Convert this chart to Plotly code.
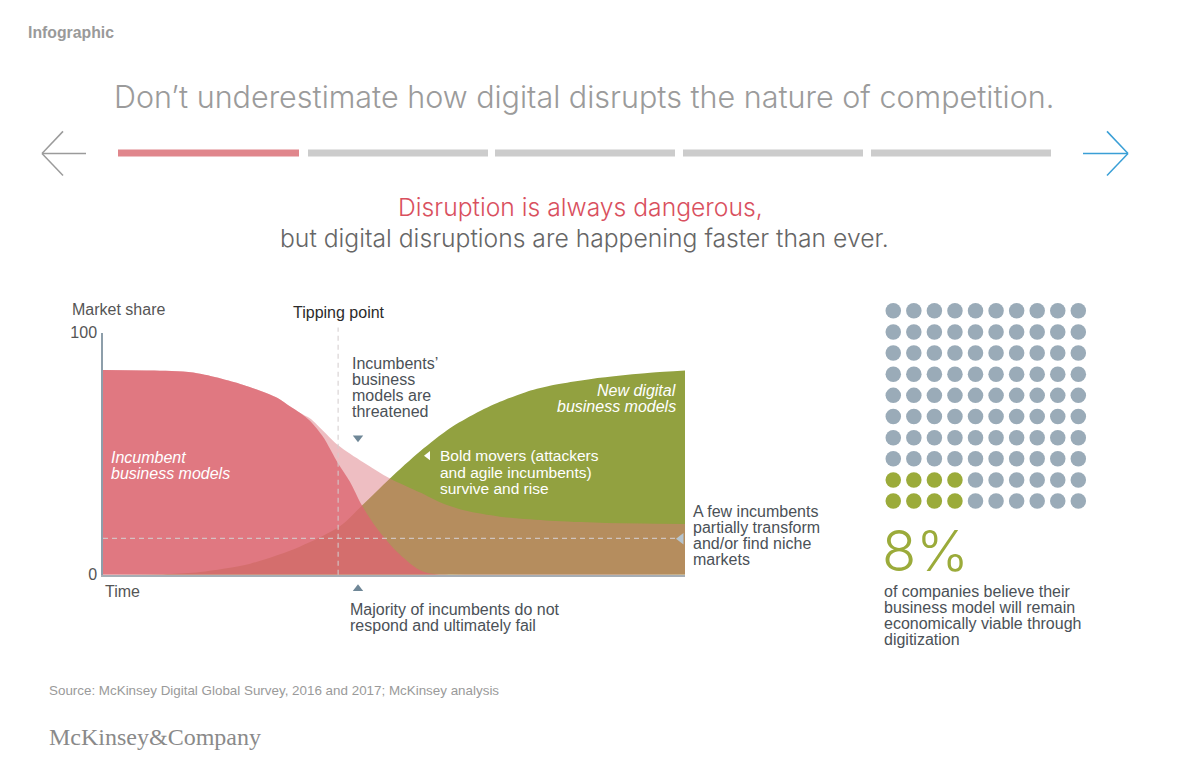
import plotly.graph_objects as go

W, H = 1200, 782


def X(px):
    return px / W


def Y(py):
    # vertical calibration of the rendered page
    return 1 - ((py - 9.75) / 0.9773) / H


# ---------------- data ----------------
# Incumbent business models (fast decline – "majority do not respond")
incumbent_x = [0, 8, 15.5, 24, 30, 32.1, 33.9, 35.6, 37.8, 40.4, 42.4, 44.5, 47.1, 50.5, 54, 56.2, 60, 100]
incumbent_y = [84.5, 84.3, 83.5, 78.5, 73, 69.6, 66.8, 63.5, 57, 46, 38.5, 28.6, 19, 9.5, 2.5, 0.5, 0, 0]

# Incumbents threatened (slow decline – "a few partially transform")
threatened_x = [0, 8, 15.5, 24, 30, 32.1, 33.9, 35.6, 37.8, 40.4, 44.7, 49.3, 54.5, 57.9, 62.2, 68.2, 76.8, 85.4, 100]
threatened_y = [84.5, 84.3, 83.5, 78.5, 73, 69.6, 66.8, 64.5, 59.5, 53.5, 46.5, 39.8, 34, 30, 26.5, 24, 22.3, 21.5, 21]

# New digital business models (rise)
digital_x = [0, 11, 16.7, 25.3, 33.8, 40.7, 44.5, 49.3, 54.5, 59.6, 63.9, 68.2, 72.5, 76.8, 85.4, 94.0, 100]
digital_y = [0, 0.3, 1.2, 4.6, 11.6, 20, 28.6, 39.8, 51, 60.5, 66.5, 71.4, 75.3, 78, 81.3, 83.4, 84.3]

tipping_point_x = 40.4
niche_level = 15
y_ticks = [0, 100]
y_tick_labels = ["0", "100"]

# Dot panel
total_companies = 100
viable_pct = 8
grid_cols = 10
block_rows = 2

# ---------------- colours / fonts ----------------
GREEN = "rgb(146,161,64)"
PINK = "rgba(220,120,128,0.48)"
RED = "rgba(220,102,112,0.80)"
TEXT = "#4b5157"
SANS = "Liberation Sans, Arial, sans-serif"
LIGHT = "Inter, Lato, Liberation Sans, sans-serif"
POINTER = "#6f8797"

fig = go.Figure()

fig.add_trace(go.Scatter(x=digital_x, y=digital_y, mode="lines",
                         line=dict(width=0, shape="spline", smoothing=0.8),
                         fill="tozeroy", fillcolor=GREEN, hoverinfo="skip"))
fig.add_trace(go.Scatter(x=threatened_x, y=threatened_y, mode="lines",
                         line=dict(width=0, shape="spline", smoothing=0.8),
                         fill="tozeroy", fillcolor=PINK, hoverinfo="skip"))
fig.add_trace(go.Scatter(x=incumbent_x, y=incumbent_y, mode="lines",
                         line=dict(width=0, shape="spline", smoothing=0.8),
                         fill="tozeroy", fillcolor=RED, hoverinfo="skip"))

# dot grid
dx, dy, dc = [], [], []
green_cells = set()
for k in range(viable_pct):
    green_cells.add((k // block_rows, k % block_rows))
for i in range(total_companies):
    col = i % grid_cols
    row = i // grid_cols
    dx.append(col)
    dy.append(row)
    dc.append("rgb(155,171,58)" if (col, row) in green_cells else "rgb(154,171,184)")
fig.add_trace(go.Scatter(x=dx, y=dy, xaxis="x2", yaxis="y2", mode="markers",
                         marker=dict(size=15.5, color=dc, line=dict(width=0)), hoverinfo="skip"))

# pointer triangles on a full-page axis pair
ptr = [(358, 439, "triangle-down", 9, POINTER),
       (358, 590, "triangle-up", 9, POINTER),
       (428, 457, "triangle-left", 8, "white"),
       (681, 540, "triangle-left", 10, "#b6c4ce")]
for px, py, sym, sz, col in ptr:
    fig.add_trace(go.Scatter(x=[X(px)], y=[Y(py)], xaxis="x3", yaxis="y3", mode="markers",
                             cliponaxis=False, marker=dict(symbol=sym, size=sz, color=col),
                             hoverinfo="skip"))

shapes = []
# tipping point vertical dashed line
shapes.append(dict(type="line", xref="x", yref="paper", x0=tipping_point_x, x1=tipping_point_x,
                   y0=Y(576), y1=Y(329), line=dict(color="rgba(212,204,206,0.85)", width=1.2, dash="5px,4px"),
                   layer="above"))
# niche dashed horizontal line
shapes.append(dict(type="line", xref="x", yref="y", x0=0, x1=98.5, y0=niche_level, y1=niche_level,
                   line=dict(color="rgba(212,204,206,0.85)", width=1.2, dash="5px,4px"), layer="above"))

# progress bars
bars = [(118, 299, "#e0868c"), (308, 488, "#cccccc"), (495, 675, "#cccccc"),
        (683, 863, "#cccccc"), (871, 1051, "#cccccc")]
for x0, x1, c in bars:
    shapes.append(dict(type="rect", xref="paper", yref="paper", x0=X(x0), x1=X(x1), y0=Y(158), y1=Y(151),
                       line=dict(width=0), fillcolor=c))


def seg(x0, y0, x1, y1, c, w=1.5):
    shapes.append(dict(type="line", xref="paper", yref="paper", x0=X(x0), y0=Y(y0), x1=X(x1), y1=Y(y1),
                       line=dict(color=c, width=w)))


seg(42, 155, 86, 155, "#9b9b9b")
seg(42, 155, 63, 133, "#9b9b9b")
seg(42, 155, 63, 177, "#9b9b9b")
seg(1083, 155, 1128, 155, "#3a9fd6")
seg(1128, 155, 1107, 133, "#3a9fd6")
seg(1128, 155, 1107, 177, "#3a9fd6")

ann = []


def txt(s, x, y, size=16, color=TEXT, anchor="left", family=SANS, italic=False, weight=None):
    f = dict(size=size, color=color, family=family)
    if italic:
        f["style"] = "italic"
    if weight:
        f["weight"] = weight
    ann.append(dict(text=s, x=X(x), y=Y(y), xref="paper", yref="paper", xanchor=anchor,
                    yanchor="middle", showarrow=False, font=f))


txt("Infographic", 26, 34, 15.8, "#9a9a9a", weight="bold")
txt("Don\u2019t underestimate how digital disrupts the nature of competition.", 583.5, 98.5, 30.5, "#9b9b9b",
    anchor="center", family=LIGHT, weight=300)
txt("Disruption is always dangerous,", 580.5, 208.5, 24.7, "#d9505e", anchor="center", family=LIGHT, weight=300)
txt("but digital disruptions are happening faster than ever.", 584.5, 239.5, 24.7, "#666666", anchor="center",
    family=LIGHT, weight=300)

txt("Market share", 70, 311, 16, "#555555")
txt("Tipping point", 291, 314, 16, "#2b2b2b")
txt("Time", 103, 593, 16, "#555555")

for i, s in enumerate(["Incumbents\u2019", "business", "models are", "threatened"]):
    txt(s, 350, 365 + 16 * i)
for i, s in enumerate(["Incumbent", "business models"]):
    txt(s, 109, 459 + 16 * i, color="white", italic=True)
for i, s in enumerate(["New digital", "business models"]):
    txt(s, 678, 392 + 16 * i, color="white", italic=True, anchor="right")
for i, s in enumerate(["Bold movers (attackers", "and agile incumbents)", "survive and rise"]):
    txt(s, 438, 457 + 16.5 * i, 15.5, color="white")
for i, s in enumerate(["A few incumbents", "partially transform", "and/or find niche", "markets"]):
    txt(s, 691, 513 + 16 * i)
for i, s in enumerate(["Majority of incumbents do not", "respond and ultimately fail"]):
    txt(s, 348, 611 + 16 * i)

txt(f"{viable_pct}%", 880, 552, 56, "rgb(155,171,58)", family=LIGHT, weight=300)
for i, s in enumerate(["of companies believe their", "business model will remain",
                       "economically viable through", "digitization"]):
    txt(s, 882, 593 + 16 * i, 16)

txt("Source: McKinsey Digital Global Survey, 2016 and 2017; McKinsey analysis", 47, 692, 13.4, "#9a9a9a")
txt("McKinsey&amp;Company", 47, 738, 24, "#8a8a8a", family="Liberation Serif, Times New Roman, serif")

fig.update_layout(
    width=W, height=H, margin=dict(l=0, r=0, t=0, b=0),
    paper_bgcolor="white", plot_bgcolor="rgba(0,0,0,0)", showlegend=False,
    xaxis=dict(domain=[X(103), X(685)], range=[0, 100], showgrid=False, zeroline=False,
               showticklabels=False, ticks="", showline=True, linecolor="#a7aeb5", linewidth=2, fixedrange=True),
    yaxis=dict(domain=[Y(576), Y(334)], range=[0, 100], showgrid=False, zeroline=False,
               tickvals=y_ticks, ticktext=y_tick_labels, ticks="inside", ticklen=5, tickcolor="#8d9eaa",
               tickwidth=1.5, tickfont=dict(size=16, color="#555555", family=SANS), ticklabelstandoff=1,
               showline=True, linecolor="#8d9eaa", linewidth=1.5, fixedrange=True),
    xaxis2=dict(domain=[X(883), X(1088.6)], range=[-0.5, 9.5], visible=False, anchor="y2"),
    yaxis2=dict(domain=[Y(512.9), Y(301.7)], range=[-0.5, 9.5], visible=False, anchor="x2"),
    xaxis3=dict(domain=[0, 1], range=[0, 1], visible=False, anchor="y3", fixedrange=True),
    yaxis3=dict(domain=[0, 1], range=[0, 1], visible=False, anchor="x3", fixedrange=True),
    shapes=shapes, annotations=ann,
)

fig.write_html("out.html")
